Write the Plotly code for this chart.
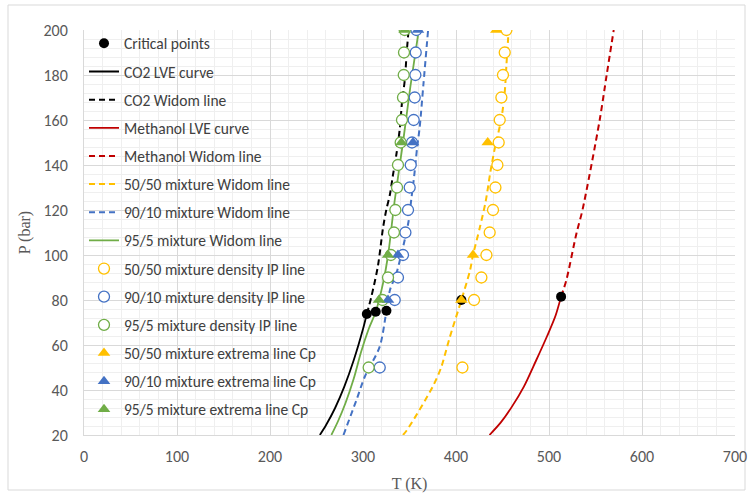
import plotly.graph_objects as go

# ---------------- data ----------------
crit_T = [304.1, 313.7, 325.2, 405.8, 513.0]
crit_P = [73.8, 74.8, 75.2, 80.0, 81.5]

co2_lve_T = [253.6, 260.0, 270.0, 280.0, 290.0, 300.0, 304.1]
co2_lve_P = [20.0, 24.2, 32.0, 41.6, 53.2, 67.1, 73.8]

co2_widom_T = [304.1, 309.0, 316.0, 321.5, 325.0, 329.0, 332.0, 336.0, 339.5, 342.0, 345.0, 347.0, 349.0]
co2_widom_P = [73.8, 81.5, 95.0, 112.0, 120.0, 127.0, 135.0, 145.0, 156.0, 168.0, 178.0, 190.0, 200.0]

meoh_lve_T = [436.0, 448.0, 460.0, 473.0, 486.0, 498.0, 507.0, 513.0]
meoh_lve_P = [20.0, 25.5, 32.5, 41.5, 53.0, 64.0, 73.0, 81.5]

meoh_widom_T = [513.0, 518.7, 529.5, 536.0, 554.5, 562.0, 569.6]
meoh_widom_P = [81.5, 88.9, 109.6, 120.0, 160.0, 180.0, 200.0]

m5050_widom_T = [343.0, 347.0, 375.0, 384.0, 393.0, 405.8, 415.0, 418.3, 425.5, 432.0, 437.0, 442.0, 448.8, 452.4, 454.2, 456.0, 456.5]
m5050_widom_P = [20.0, 22.0, 41.5, 50.0, 63.0, 80.0, 93.0, 100.0, 112.0, 124.0, 137.0, 148.0, 160.6, 172.4, 184.3, 196.0, 200.0]

m9010_widom_T = [279.0, 293.0, 302.0, 318.0, 325.2, 329.0, 336.0, 341.0, 345.0, 349.0, 352.0, 355.0, 358.0, 361.0, 365.0, 370.0]
m9010_widom_P = [20.0, 35.6, 46.0, 59.3, 75.2, 84.4, 92.0, 100.0, 107.0, 115.0, 125.0, 135.0, 147.0, 157.0, 176.0, 200.0]

m955_widom_T = [266.0, 273.0, 281.0, 290.0, 298.0, 306.0, 313.7, 321.5, 327.0, 334.0, 343.0, 351.0, 360.0]
m955_widom_P = [20.0, 26.0, 34.0, 45.0, 57.0, 67.0, 74.8, 87.4, 100.0, 124.0, 150.0, 175.0, 200.0]

ip_P = [50, 80, 90, 100, 110, 120, 130, 140, 150, 160, 170, 180, 190, 200]
ip5050_T = [406.9, 419.4, 427.3, 432.7, 436.2, 439.8, 442.4, 444.5, 445.9, 447.0, 448.8, 450.5, 452.4, 454.2]
ip9010_T = [318.0, 334.1, 337.6, 343.0, 345.6, 348.4, 350.2, 351.3, 352.7, 354.5, 355.6, 356.3, 356.7, 357.4]
ip955_T = [306.1, 321.0, 326.9, 330.0, 333.3, 334.8, 336.6, 337.6, 340.5, 341.9, 343.0, 343.8, 344.1, 344.8]

cp_P = [80, 100, 150, 200]
cp5050_T = [405.8, 418.3, 434.1, 443.4]
cp9010_T = [326.9, 337.6, 353.8, 359.1]
cp955_T = [317.2, 326.9, 341.3, 344.8]

# ---------------- styles ----------------
YEL, BLU, GRN, RED, BLK = "#FFC000", "#4472C4", "#70AD47", "#C00000", "#000000"
DASH = "6px,4px"

fig = go.Figure()
order = ["Critical points", "CO2 LVE curve", "CO2 Widom line", "Methanol LVE curve",
         "Methanol Widom line", "50/50 mixture Widom line", "90/10 mixture Widom line",
         "95/5 mixture Widom line", "50/50 mixture density IP line",
         "90/10 mixture density IP line", "95/5 mixture density IP line",
         "50/50 mixture extrema line Cp", "90/10 mixture extrema line Cp",
         "95/5 mixture extrema line Cp"]
rank = {n: i + 1 for i, n in enumerate(order)}


def add_line(name, T, P, color, dash=None, width=1.8):
    fig.add_trace(go.Scatter(x=T, y=P, mode="lines", name=name, legendgroup=name,
                             legendrank=rank[name],
                             line=dict(color=color, width=width, dash=dash,
                                       shape="spline", smoothing=0.8)))


add_line("CO2 LVE curve", co2_lve_T, co2_lve_P, BLK)
add_line("CO2 Widom line", co2_widom_T, co2_widom_P, BLK, DASH, 2)
add_line("Methanol LVE curve", meoh_lve_T, meoh_lve_P, RED)
add_line("Methanol Widom line", meoh_widom_T, meoh_widom_P, RED, DASH, 2)
add_line("50/50 mixture Widom line", m5050_widom_T, m5050_widom_P, YEL, DASH, 2)
add_line("90/10 mixture Widom line", m9010_widom_T, m9010_widom_P, BLU, DASH, 2)
add_line("95/5 mixture Widom line", m955_widom_T, m955_widom_P, GRN)

fig.add_trace(go.Scatter(x=crit_T, y=crit_P, mode="markers", name="Critical points",
                         legendgroup="Critical points", legendrank=rank["Critical points"],
                         marker=dict(color=BLK, size=10, symbol="circle")))


def add_circ(name, T, color):
    fig.add_trace(go.Scatter(x=T, y=ip_P, mode="markers", name=name, legendgroup=name,
                             legendrank=rank[name],
                             marker=dict(symbol="circle", size=11, color="white",
                                         line=dict(color=color, width=1.3))))


add_circ("50/50 mixture density IP line", ip5050_T, YEL)
add_circ("90/10 mixture density IP line", ip9010_T, BLU)
add_circ("95/5 mixture density IP line", ip955_T, GRN)


def add_tri(name, T, color):
    fig.add_trace(go.Scatter(x=T, y=cp_P, mode="markers", name=name, legendgroup=name,
                             legendrank=rank[name],
                             marker=dict(symbol="triangle-up", size=11, color=color)))


add_tri("50/50 mixture extrema line Cp", cp5050_T, YEL)
add_tri("90/10 mixture extrema line Cp", cp9010_T, BLU)
add_tri("95/5 mixture extrema line Cp", cp955_T, GRN)

TICKFONT = dict(family="Carlito, Lato, Liberation Sans, sans-serif", size=16, color="#595959")
TITLEFONT = dict(family="Liberation Serif, Times New Roman, serif", size=16, color="#595959")

fig.update_xaxes(range=[0, 700], dtick=100, tick0=0, showgrid=True, gridcolor="#d9d9d9",
                 gridwidth=1, minor=dict(dtick=20, showgrid=True, gridcolor="#efefef", gridwidth=1),
                 zeroline=False, showline=True, linecolor="#d9d9d9", ticks="",
                 ticklabelstandoff=7, automargin=False,
                 tickfont=TICKFONT, title=dict(text="T (K)", font=TITLEFONT, standoff=12))
fig.update_yaxes(range=[20, 200], dtick=20, tick0=0, showgrid=True, gridcolor="#d9d9d9",
                 gridwidth=1, minor=dict(dtick=4, showgrid=True, gridcolor="#efefef", gridwidth=1),
                 zeroline=False, showline=True, linecolor="#d9d9d9", ticks="",
                 ticklabelstandoff=12, automargin=False,
                 tickfont=TICKFONT, title=dict(text="P (bar)", font=TITLEFONT, standoff=8))

fig.update_layout(
    width=752, height=497,
    margin=dict(l=84, r=17, t=30, b=62),
    paper_bgcolor="white", plot_bgcolor="white",
    showlegend=True,
    legend=dict(x=0.0, y=1.008, xanchor="left", yanchor="top",
                bgcolor="rgba(0,0,0,0)", traceorder="grouped", tracegroupgap=5,
                itemwidth=30, maxheight=480,
                font=dict(family="Carlito, Lato, Liberation Sans, sans-serif", size=15.5,
                          color="#404040")),
    shapes=[dict(type="rect", xref="paper", yref="paper",
                 x0=(8 - 84) / 651, x1=(745 - 84) / 651,
                 y0=(435 - 490) / 405, y1=(435 - 5) / 405,
                 line=dict(color="#d9d9d9", width=1), layer="below")],
)

fig.write_html("out.html")
